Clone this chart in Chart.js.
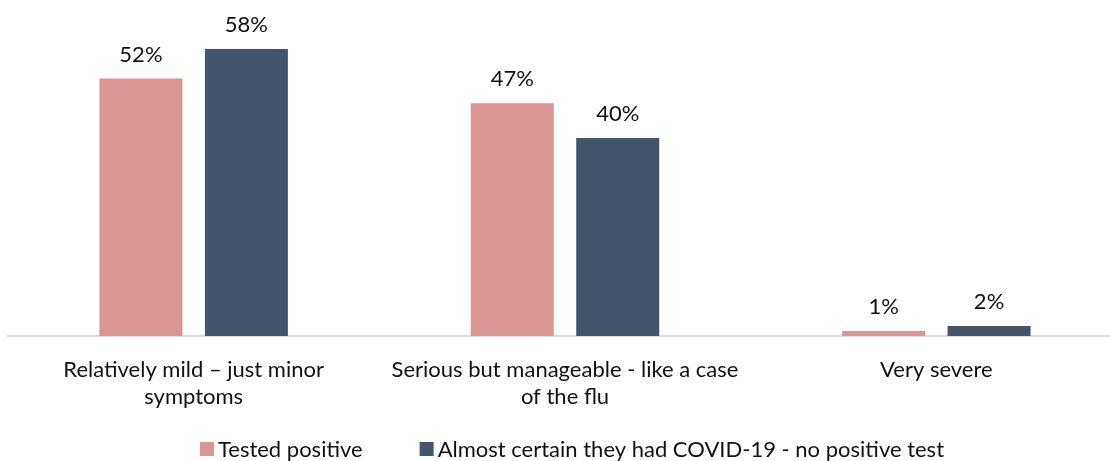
<!DOCTYPE html>
<html>
<head>
<meta charset="utf-8">
<script src="https://cdn.jsdelivr.net/npm/chart.js@4.4.1/dist/chart.umd.min.js"></script>
<style>
  html, body { margin: 0; padding: 0; background: #fff; overflow: hidden; }
  #wrap { position: relative; width: 1126px; height: 461px; }
</style>
</head>
<body>
<div id="wrap"><canvas id="chart"></canvas></div>
<script>
// Severity of symptoms, share of respondents (%)
const categories = [
  ['Relatively mild \u2013 just minor', 'symptoms'],
  ['Serious but manageable - like a case', 'of the flu'],
  ['Very severe']
];
const seriesNames = ['Tested positive', 'Almost certain they had COVID-19 - no positive test'];
const testedPositive = [52, 47, 1];
const almostCertain = [58, 40, 2];
const seriesColors = ['#DA9694', '#44546A'];

const FONT = 'Lato, "Open Sans", sans-serif';
const TEXT = '#111';
const AXIS_BOTTOM = 336;

// Writes each bar's value above it
const valueLabels = {
  id: 'valueLabels',
  afterDatasetsDraw(chart) {
    const ctx = chart.ctx;
    ctx.save();
    ctx.font = '22px ' + FONT;
    ctx.fillStyle = TEXT;
    ctx.textAlign = 'center';
    ctx.textBaseline = 'middle';
    chart.data.datasets.forEach((ds, i) => {
      chart.getDatasetMeta(i).data.forEach((bar, j) => {
        ctx.fillText(ds.data[j] + '%', bar.x, bar.y - 24);
      });
    });
    ctx.restore();
  }
};

// Compact legend row under the axis labels
const bottomLegend = {
  id: 'bottomLegend',
  afterDraw(chart) {
    const ctx = chart.ctx;
    const box = 14, gap = 4, spacing = 57, y = 449;
    ctx.save();
    ctx.font = '22px ' + FONT;
    ctx.textBaseline = 'middle';
    ctx.textAlign = 'left';
    const items = chart.data.datasets.map(ds => ({
      text: ds.label, color: ds.backgroundColor, w: box + gap + ctx.measureText(ds.label).width
    }));
    const total = items.reduce((s, it) => s + it.w, 0) + spacing * (items.length - 1);
    const area = chart.chartArea;
    let x = (area.left + area.right) / 2 - total / 2 + 7;
    items.forEach(it => {
      ctx.fillStyle = it.color;
      ctx.fillRect(x, y - box / 2, box, box);
      ctx.fillStyle = TEXT;
      ctx.fillText(it.text, x + box + gap, y + 1);
      x += it.w + spacing;
    });
    ctx.restore();
  }
};

new Chart(document.getElementById('chart'), {
  type: 'bar',
  data: {
    labels: categories,
    datasets: [
      { label: seriesNames[0], data: testedPositive, backgroundColor: seriesColors[0] },
      { label: seriesNames[1], data: almostCertain, backgroundColor: seriesColors[1] }
    ]
  },
  options: {
    responsive: true,
    maintainAspectRatio: false,
    animation: false,
    datasets: { bar: { categoryPercentage: 0.568, barPercentage: 0.787 } },
    layout: { padding: { top: 39, left: 8, right: 4, bottom: 0 } },
    scales: {
      x: {
        grid: { display: false, drawTicks: false },
        border: { display: true, color: '#D9D9D9', width: 2 },
        ticks: { color: TEXT, font: { family: FONT, size: 22 }, padding: 21, maxRotation: 0, autoSkip: false },
        afterFit(scale) { scale.height = scale.chart.height - AXIS_BOTTOM; }
      },
      y: { display: false, min: 0, max: 60 }
    },
    plugins: {
      legend: { display: false },
      tooltip: { enabled: false }
    }
  },
  plugins: [valueLabels, bottomLegend]
});
</script>
</body>
</html>
